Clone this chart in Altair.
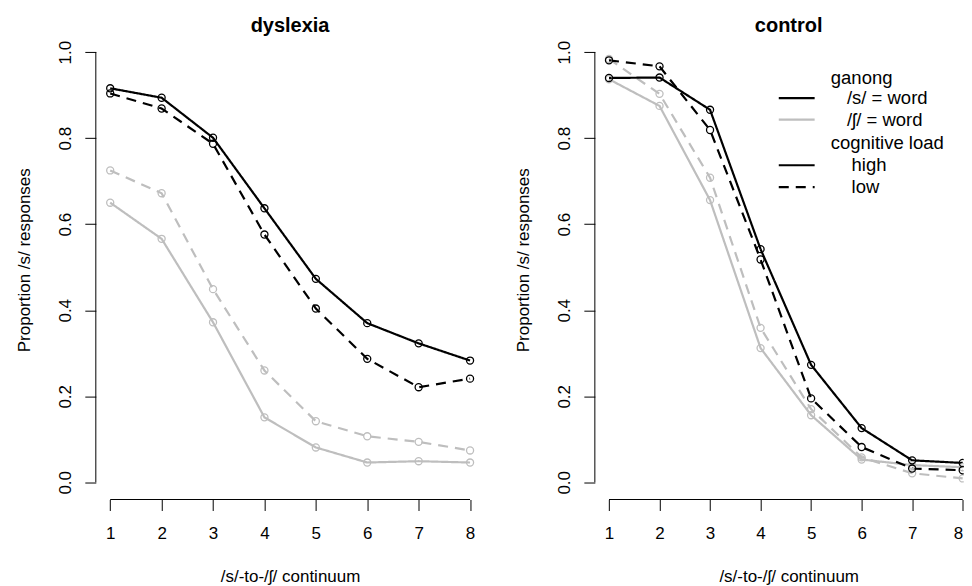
import altair as alt
import pandas as pd

# ---- data ----
xs = [1, 2, 3, 4, 5, 6, 7, 8]

dys_s_high = [0.916, 0.894, 0.801, 0.637, 0.473, 0.370, 0.323, 0.283]
dys_s_low = [0.904, 0.869, 0.787, 0.576, 0.404, 0.287, 0.221, 0.241]
dys_sh_high = [0.650, 0.566, 0.372, 0.151, 0.081, 0.046, 0.049, 0.046]
dys_sh_low = [0.725, 0.672, 0.449, 0.260, 0.142, 0.107, 0.094, 0.074]

con_s_high = [0.940, 0.941, 0.866, 0.542, 0.273, 0.126, 0.051, 0.045]
con_s_low = [0.981, 0.967, 0.819, 0.518, 0.195, 0.082, 0.032, 0.028]
con_sh_high = [0.937, 0.875, 0.656, 0.312, 0.156, 0.053, 0.040, 0.035]
con_sh_low = [0.984, 0.903, 0.708, 0.359, 0.170, 0.058, 0.021, 0.009]

ganong_levels = ["sh", "s"]
ganong_colors = ["#BEBEBE", "#000000"]
load_levels = ["high", "low"]
load_dashes = [[1, 0], [10, 7]]

y_ticks = [0.0, 0.2, 0.4, 0.6, 0.8, 1.0]

legend_labels = ["ganong", "/s/ = word", "/ʃ/  = word", "cognitive load", "high", "low"]
legend_y = [0.940, 0.893, 0.843, 0.789, 0.737, 0.686]
legend_text_x = [5.39, 5.71, 5.71, 5.39, 5.80, 5.80]
legend_line_ganong = ["", "s", "sh", "", "s", "s"]
legend_line_load = ["", "high", "high", "", "high", "low"]
legend_line_x = [4.36, 5.07]

FONT = "Liberation Sans"
H = 465
W_LEFT = 389
X_DOM_LEFT = [0.72, 8.28]
W_RIGHT = 369.2
X_DOM_RIGHT = [0.72, 8.02]
Y_DOM = [-0.04, 1.04]


def long_df(series):
    rows = []
    for (g, l), vals in series:
        for x, v in zip(xs, vals):
            rows.append({"x": x, "y": v, "ganong": g, "load": l, "series": g + "_" + l})
    return pd.DataFrame(rows)


color_scale = alt.Scale(domain=ganong_levels, range=ganong_colors)
dash_scale = alt.Scale(domain=load_levels, range=load_dashes)


def panel(df, title, width, xdom, title_cx, with_legend=False):
    xaxis_kw = dict(
        values=xs, format="d", domain=False, grid=False, tickSize=11, tickColor="#000",
        labelFontSize=17, labelFont=FONT, labelColor="#000", labelPadding=15,
        labelBaseline="top", title="/s/-to-/ʃ/ continuum", titleFont=FONT,
        titleFontSize=17, titleFontWeight="normal", titleColor="#000",
        titleBaseline="alphabetic", titleAlign="center", titleX=title_cx, titleY=82.5,
    )
    if with_legend:
        xaxis_kw.update(labelFlush=2, labelFlushOffset=0)
    else:
        xaxis_kw.update(labelFlush=False)
    xenc = alt.X(
        "x:Q",
        scale=alt.Scale(domain=xdom, nice=False, zero=False),
        axis=alt.Axis(**xaxis_kw),
    )
    yenc = alt.Y(
        "y:Q",
        scale=alt.Scale(domain=Y_DOM, nice=False, zero=False),
        axis=alt.Axis(
            values=y_ticks, format=".1f", domain=False, grid=False, tickSize=11, tickColor="#000",
            labelFontSize=17, labelFont=FONT, labelColor="#000", labelAngle=-90,
            labelAlign="center", labelBaseline="alphabetic", labelPadding=14.6,
            labelFlush=False,
            title="Proportion /s/ responses", titleFont=FONT, titleFontSize=17,
            titleFontWeight="normal", titleColor="#000", titleAngle=-90,
            titleAlign="center", titleBaseline="alphabetic", titleX=-66, titleY=225,
        ),
    )
    base = alt.Chart(df)
    lines = base.mark_line(strokeWidth=2.2, clip=True).encode(
        x=xenc, y=yenc,
        color=alt.Color("ganong:N", scale=color_scale, legend=None),
        strokeDash=alt.StrokeDash("load:N", scale=dash_scale, legend=None),
        detail="series:N",
    )
    pts = base.mark_point(shape="circle", filled=False, size=50, strokeWidth=1.3,
                          opacity=1, clip=True).encode(
        x="x:Q", y="y:Q",
        color=alt.Color("ganong:N", scale=color_scale, legend=None),
    )
    one = pd.DataFrame({"a": [0]})
    yline = alt.Chart(one).mark_rule(color="#000", strokeWidth=1).encode(
        x=alt.value(0), y=alt.datum(0.0), y2=alt.datum(1.0)
    )
    xline = alt.Chart(one).mark_rule(color="#000", strokeWidth=1).encode(
        y=alt.value(H), x=alt.datum(1), x2=alt.datum(8)
    )
    ttl = alt.Chart(one).mark_text(
        text=title, font=FONT, fontSize=20, fontWeight="bold", color="#000",
        align="center", baseline="alphabetic",
    ).encode(x=alt.value(title_cx), y=alt.value(-3.1))
    layers = [lines, pts, yline, xline, ttl]
    if with_legend:
        leg = pd.DataFrame({
            "label": legend_labels, "ly": legend_y, "lx": legend_text_x,
            "ganong": legend_line_ganong, "load": legend_line_load,
            "x0": [legend_line_x[0]] * 6, "x1": [legend_line_x[1]] * 6,
        })
        leg_text = alt.Chart(leg).mark_text(
            align="left", baseline="middle", fontSize=18.5, font=FONT, color="#000"
        ).encode(x="lx:Q", y="ly:Q", text="label:N")
        leg_lines = alt.Chart(leg).transform_filter("datum.ganong != ''").mark_rule(strokeWidth=2.2).encode(
            x="x0:Q", x2="x1:Q", y="ly:Q",
            color=alt.Color("ganong:N", scale=color_scale, legend=None),
            strokeDash=alt.StrokeDash("load:N", scale=dash_scale, legend=None),
        )
        layers += [leg_lines, leg_text]
    return alt.layer(*layers).properties(width=width, height=H)


dys = long_df([(("sh", "low"), dys_sh_low), (("sh", "high"), dys_sh_high),
               (("s", "low"), dys_s_low), (("s", "high"), dys_s_high)])
con = long_df([(("sh", "low"), con_sh_low), (("sh", "high"), con_sh_high),
               (("s", "low"), con_s_low), (("s", "high"), con_s_high)])

chart = alt.hconcat(
    panel(dys, "dyslexia", W_LEFT, X_DOM_LEFT, 194.4),
    panel(con, "control", W_RIGHT, X_DOM_RIGHT, 194.0, with_legend=True),
    spacing=30.5,
).resolve_scale(color="shared", strokeDash="shared").properties(
    padding={"left": 7.9, "top": 6.7, "right": 0, "bottom": 0},
    background="white",
).configure_view(stroke=None)

chart.save("out.html", embed_options={"renderer": "svg", "actions": False})
